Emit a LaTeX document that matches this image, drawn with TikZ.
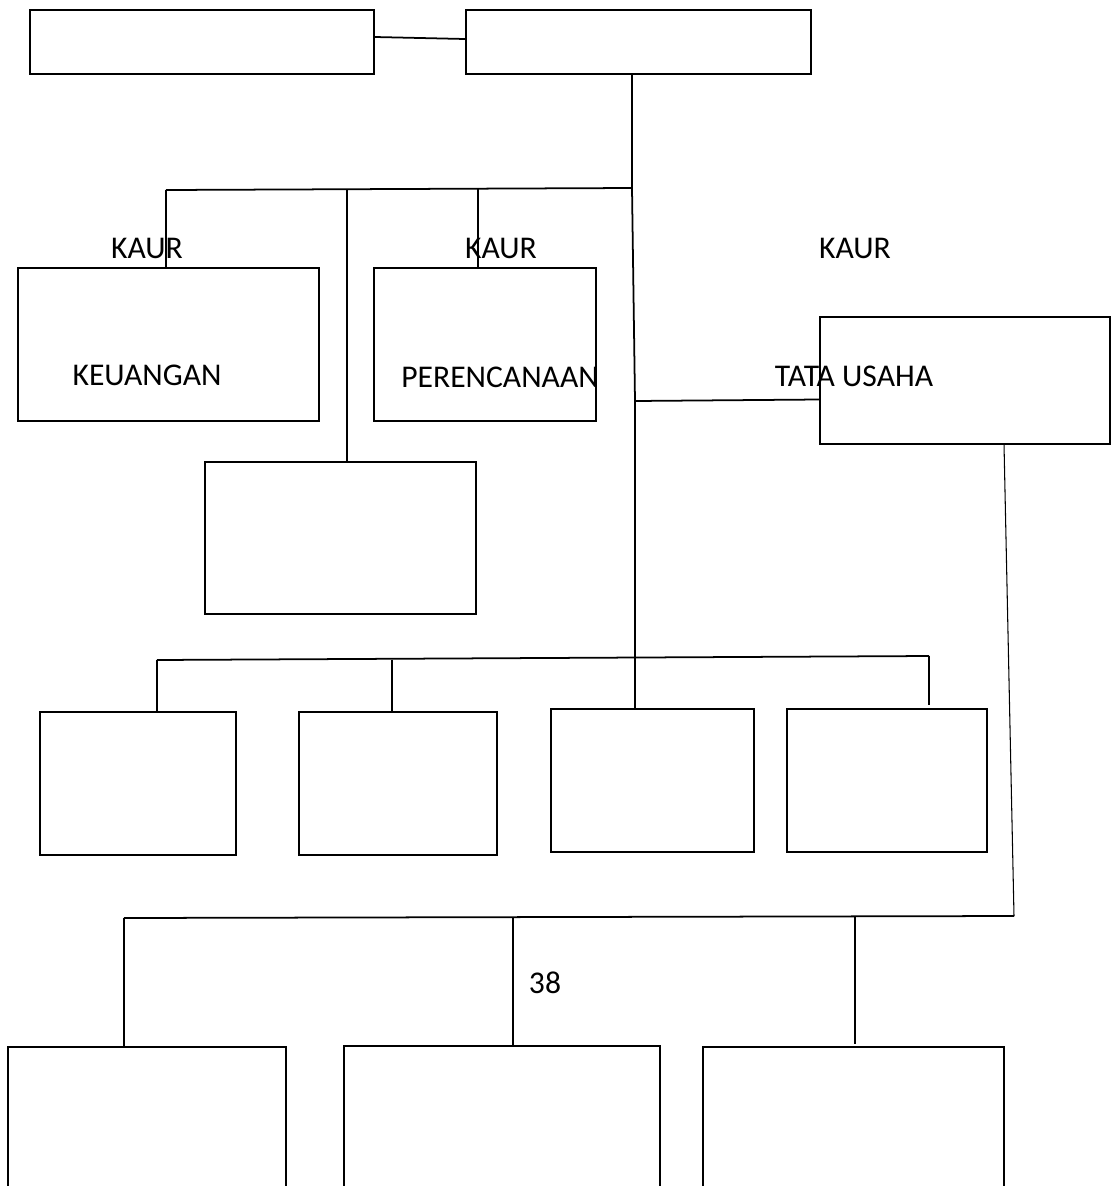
\documentclass[tikz,border=0pt]{standalone}
\usepackage{fontspec}
\setmainfont{Carlito}
\usetikzlibrary{calc}
\tikzset{
  box/.style={draw=black, line width=1.1pt, fill=none, rectangle, inner sep=0pt},
  conn/.style={draw=black, line width=1pt},
  thinconn/.style={draw=black, line width=0.6pt},
  lbl/.style={font=\fontsize{18}{20}\selectfont, inner sep=0pt, anchor=center}
}
\begin{document}
\begin{tikzpicture}
\useasboundingbox (0,0) rectangle (22.24,-23.72);
\clip (0,0) rectangle (22.24,-23.72);
\fill[white] (0,0) rectangle (22.24,-23.72);
% top boxes
\node[box, minimum width=6.88cm, minimum height=1.28cm] (A) at (4.04,-0.84) {};
\node[box, minimum width=6.90cm, minimum height=1.28cm] (B) at (12.77,-0.84) {};
% second level boxes
\node[box, minimum width=6.02cm, minimum height=3.06cm] (KEU) at (3.37,-6.89) {};
\node[box, minimum width=4.44cm, minimum height=3.06cm] (PER) at (9.70,-6.89) {};
\node[box, minimum width=5.42cm, minimum height=3.04cm] (EMP) at (6.81,-10.76) {};
\node[box, minimum width=5.80cm, minimum height=2.54cm] (TU) at (19.30,-7.61) {};
% third row
\node[box, minimum width=3.92cm, minimum height=2.86cm] (r1) at (2.76,-15.67) {};
\node[box, minimum width=3.96cm, minimum height=2.86cm] (r2) at (7.96,-15.67) {};
\node[box, minimum width=4.06cm, minimum height=2.86cm] (r3) at (13.05,-15.61) {};
\node[box, minimum width=4.00cm, minimum height=2.86cm] (r4) at (17.74,-15.61) {};
% bottom row (cut by page edge)
\node[box, minimum width=5.56cm, minimum height=3.86cm] (b1) at (2.94,-22.87) {};
\node[box, minimum width=6.32cm, minimum height=3.86cm] (b2) at (10.04,-22.85) {};
\node[box, minimum width=6.02cm, minimum height=3.86cm] (b3) at (17.07,-22.87) {};
% labels
\node[lbl] (k1) at (2.94,-4.96) {KAUR};
\node[lbl] (k2) at (10.02,-4.96) {KAUR};
\node[lbl] (k3) at (17.10,-4.96) {KAUR};
\node[lbl] (t1) at (2.94,-7.50) {KEUANGAN};
\node[lbl] (t2) at (10.00,-7.54) {PERENCANAAN};
\node[lbl] (t3) at (17.08,-7.52) {TATA USAHA};
\node[lbl] (n38) at (10.90,-19.66) {38};
% coordinates
\coordinate (j1) at (12.64,-3.76);
\coordinate (jt) at (12.70,-8.02);
\coordinate (h1) at (3.32,-3.80);
\coordinate (h2) at (6.94,-3.79);
\coordinate (h3) at (9.56,-3.77);
\coordinate (g1) at (3.14,-13.20);
\coordinate (g2) at (7.84,-13.19);
\coordinate (g4) at (18.58,-13.12);
\coordinate (u0) at (20.28,-18.32);
\coordinate (u1) at (2.48,-18.36);
\coordinate (u2) at (10.26,-18.35);
\coordinate (u3) at (17.10,-18.33);
% connectors
\draw[conn] ($(A.east)+(0,0.10)$) -- ($(B.west)+(0,0.06)$);
\draw[conn] (j1 |- B.south) -- (j1) -- (jt) -- (jt |- r3.north);
\draw[conn] (j1) -- (h1);
\draw[thinconn] (h1) -- (h1 |- KEU.north);
\draw[conn] (h2) -- (h2 |- EMP.north);
\draw[thinconn] (h3) -- (h3 |- PER.north);
\draw[conn] (jt) -- ($(TU.west)+(0,-0.38)$);
\draw[conn] (g1) -- (g4);
\draw[thinconn] (g1) -- (g1 |- r1.north);
\draw[conn] (g2) -- (g2 |- r2.north);
\draw[conn] (g4) -- (18.58,-14.10);
\draw[thinconn] (20.08,-8.88) -- (u0);
\draw[conn] (u0) -- (u1);
\draw[conn] (u1) -- (u1 |- b1.north);
\draw[conn] (u2) -- (u2 |- b2.north);
\draw[thinconn] (u3) -- (17.10,-20.88);
\end{tikzpicture}
\end{document}
